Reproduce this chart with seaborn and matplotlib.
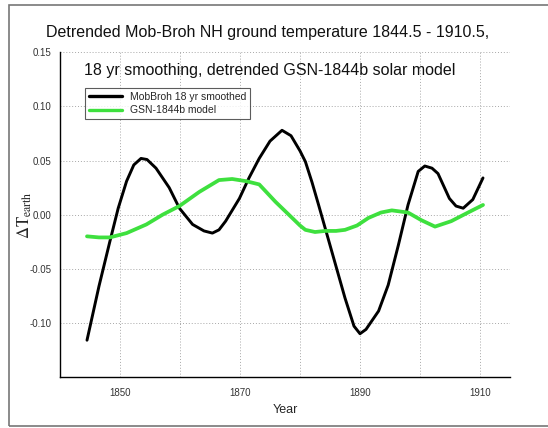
import matplotlib
matplotlib.use("Agg")
import matplotlib.pyplot as plt
import seaborn as sns
import numpy as np
from matplotlib.patches import Rectangle
from matplotlib.ticker import FixedLocator

# ---- data ----
mob_years = [1844.5, 1846.5, 1848.3, 1849.7, 1851.1, 1852.3, 1853.5, 1854.5, 1856.0,
             1858.2, 1859.9, 1862.1, 1864.0, 1865.4, 1866.5, 1867.6, 1869.9, 1871.5,
             1873.2, 1875.0, 1877.0, 1878.5, 1880.0, 1880.9, 1882.0, 1883.1, 1885.3,
             1887.5, 1889.0, 1890.0, 1891.0, 1893.1, 1894.7, 1896.4, 1898.0, 1899.7,
             1900.8, 1902.0, 1903.0, 1904.9, 1906.0, 1907.2, 1908.8, 1910.5]
mob_values = [-0.116, -0.066, -0.025, 0.006, 0.031, 0.046, 0.052, 0.051, 0.043,
              0.025, 0.006, -0.009, -0.015, -0.017, -0.014, -0.006, 0.015, 0.034,
              0.052, 0.068, 0.078, 0.073, 0.059, 0.049, 0.030, 0.009, -0.034,
              -0.077, -0.103, -0.110, -0.106, -0.089, -0.065, -0.028, 0.009, 0.040,
              0.045, 0.043, 0.038, 0.015, 0.008, 0.006, 0.014, 0.034]

gsn_years = [1844.5, 1846.5, 1848.3, 1851.1, 1854.4, 1857.1, 1859.9, 1863.2, 1866.5,
             1868.7, 1871.0, 1873.2, 1875.9, 1878.7, 1880.0, 1880.9, 1882.5, 1884.2,
             1886.0, 1887.5, 1889.5, 1891.4, 1893.5, 1895.3, 1898.0, 1900.2, 1902.5,
             1905.2, 1908.0, 1910.5]
gsn_values = [-0.020, -0.021, -0.021, -0.017, -0.009, 0.000, 0.008, 0.021, 0.032,
              0.033, 0.031, 0.028, 0.012, -0.003, -0.010, -0.014, -0.016, -0.015,
              -0.015, -0.014, -0.010, -0.003, 0.002, 0.004, 0.002, -0.005, -0.011,
              -0.006, 0.002, 0.009]

series_labels = ["MobBroh 18 yr smoothed", "GSN-1844b model"]
x_major = [1850, 1870, 1890, 1910]
x_minor = [1860, 1880, 1900]
y_ticks = [-0.10, -0.05, 0.00, 0.05, 0.10, 0.15]
title_line1 = "Detrended Mob-Broh NH ground temperature 1844.5 - 1910.5,"
title_line2 = "18 yr smoothing, detrended GSN-1844b solar model"

# ---- styling ----
sns.set_style("white")
plt.rcParams["font.family"] = ["Liberation Sans", "DejaVu Sans"]
plt.rcParams["axes.unicode_minus"] = False
plt.rcParams["mathtext.fontset"] = "stix"

W, H = 548, 428
fig = plt.figure(figsize=(W / 100, H / 100), dpi=100)
fig.patch.set_facecolor("white")

ax = fig.add_axes([60 / W, 1 - 377 / H, 450 / W, 324.6 / H])

sns.lineplot(x=mob_years, y=mob_values, ax=ax, color="black", linewidth=2.1,
             sort=False, estimator=None, label=series_labels[0])
sns.lineplot(x=gsn_years, y=gsn_values, ax=ax, color="#3ee03e", linewidth=2.7,
             sort=False, estimator=None, label=series_labels[1])
for ln in ax.get_lines():
    ln.set_solid_joinstyle("round")
    ln.set_solid_capstyle("round")

ax.set_xlim(1840, 1915)
ax.set_ylim(-0.15, 0.15)

ax.xaxis.set_major_locator(FixedLocator(x_major))
ax.xaxis.set_minor_locator(FixedLocator(x_minor))
ax.yaxis.set_major_locator(FixedLocator(y_ticks))
ax.set_xticklabels([str(v) for v in x_major])
ax.set_yticklabels(["%.2f" % v for v in y_ticks])

ax.grid(True, which="both", axis="x", linestyle=(0, (1, 2)), color="#a8a8a8", linewidth=0.7)
ax.grid(True, which="major", axis="y", linestyle=(0, (1, 2)), color="#a8a8a8", linewidth=0.7)
ax.set_axisbelow(True)

for s in ["top", "right"]:
    ax.spines[s].set_visible(False)
for s in ["left", "bottom"]:
    ax.spines[s].set_color("black")
    ax.spines[s].set_linewidth(1.0)

ax.tick_params(axis="both", which="major", direction="in", length=3, width=0.8,
               labelsize=7, labelcolor="#333333", colors="#333333", pad=8)
ax.tick_params(axis="x", which="minor", length=0)
ax.tick_params(axis="y", pad=6)

ax.set_xlabel("Year", fontsize=9, labelpad=4)
ax.set_ylabel(r"$\Delta\mathrm{T}_{\mathrm{earth}}$", fontsize=12)
ax.yaxis.set_label_coords(-(60 - 34) / 450, 0.5)

leg = ax.legend(loc="upper left", bbox_to_anchor=(25 / 450, (377 - 88) / 324.6),
                borderaxespad=0, fontsize=7.5, frameon=True, fancybox=False,
                handlelength=3.2, handletextpad=0.8, labelspacing=0.35,
                borderpad=0.35)
leg.get_frame().set_edgecolor("#333333")
leg.get_frame().set_linewidth(0.8)
for line in leg.get_lines():
    line.set_linewidth(2.4)

fig.text(268 / W, 1 - 33 / H, title_line1, ha="center", va="center",
         fontsize=11.5, color="#111111")
fig.text(270 / W, 1 - 70 / H, title_line2, ha="center", va="center",
         fontsize=11.5, color="#111111")

# outer frame
fig.patches.append(Rectangle((9 / W, 2 / H), 1.2, 421 / H, transform=fig.transFigure,
                             fill=False, edgecolor="#777777", linewidth=1.2))

fig.savefig("out.png", dpi=100)
